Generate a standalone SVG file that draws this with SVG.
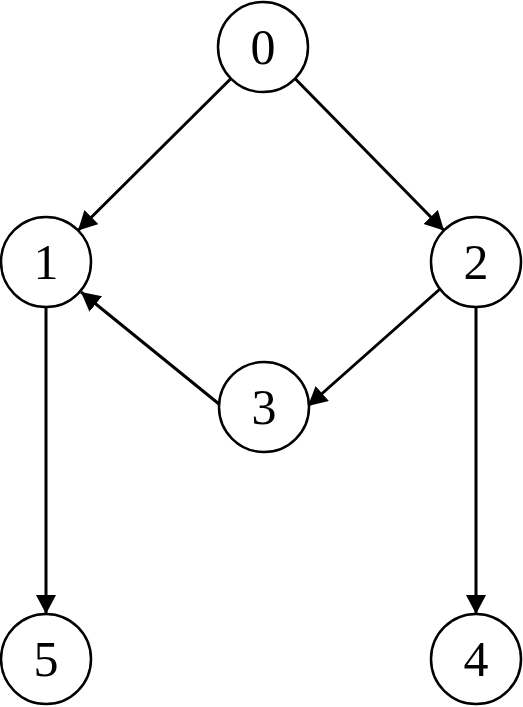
<svg xmlns="http://www.w3.org/2000/svg" width="523" height="707" viewBox="0 0 523 707">
<style>
.node circle{fill:#fff;stroke:#000;stroke-width:2.5}
.node text{font-family:"Liberation Serif",serif;font-size:50px;text-anchor:middle;dominant-baseline:central;fill:#000}
.edges line{stroke:#000;stroke-width:3;marker-end:url(#arr)}
</style>
<defs>
<marker id="arr" markerUnits="userSpaceOnUse" markerWidth="22" markerHeight="22" refX="19" refY="10" orient="auto">
<path d="M0,0 L19,10 L0,20 Z" fill="#000"/>
</marker>
</defs>
<g class="edges">
<line x1="231" y1="78.5" x2="78" y2="230.5"/>
<line x1="295" y1="78.5" x2="444" y2="230.5"/>
<line x1="440" y1="289" x2="308" y2="406"/>
<line x1="219" y1="404" x2="81" y2="292"/>
<line x1="46" y1="307" x2="46" y2="614"/>
<line x1="476" y1="307" x2="476" y2="614"/>
</g>
<g id="n0" class="node"><circle cx="263" cy="47" r="45"/><text x="263" y="47">0</text></g>
<g id="n1" class="node"><circle cx="46" cy="262" r="45"/><text x="46" y="262">1</text></g>
<g id="n2" class="node"><circle cx="476" cy="262" r="45"/><text x="476" y="262">2</text></g>
<g id="n3" class="node"><circle cx="264" cy="407" r="45"/><text x="264" y="407">3</text></g>
<g id="n5" class="node"><circle cx="46" cy="659" r="45"/><text x="46" y="659">5</text></g>
<g id="n4" class="node"><circle cx="476" cy="659" r="45"/><text x="476" y="659">4</text></g>
</svg>
